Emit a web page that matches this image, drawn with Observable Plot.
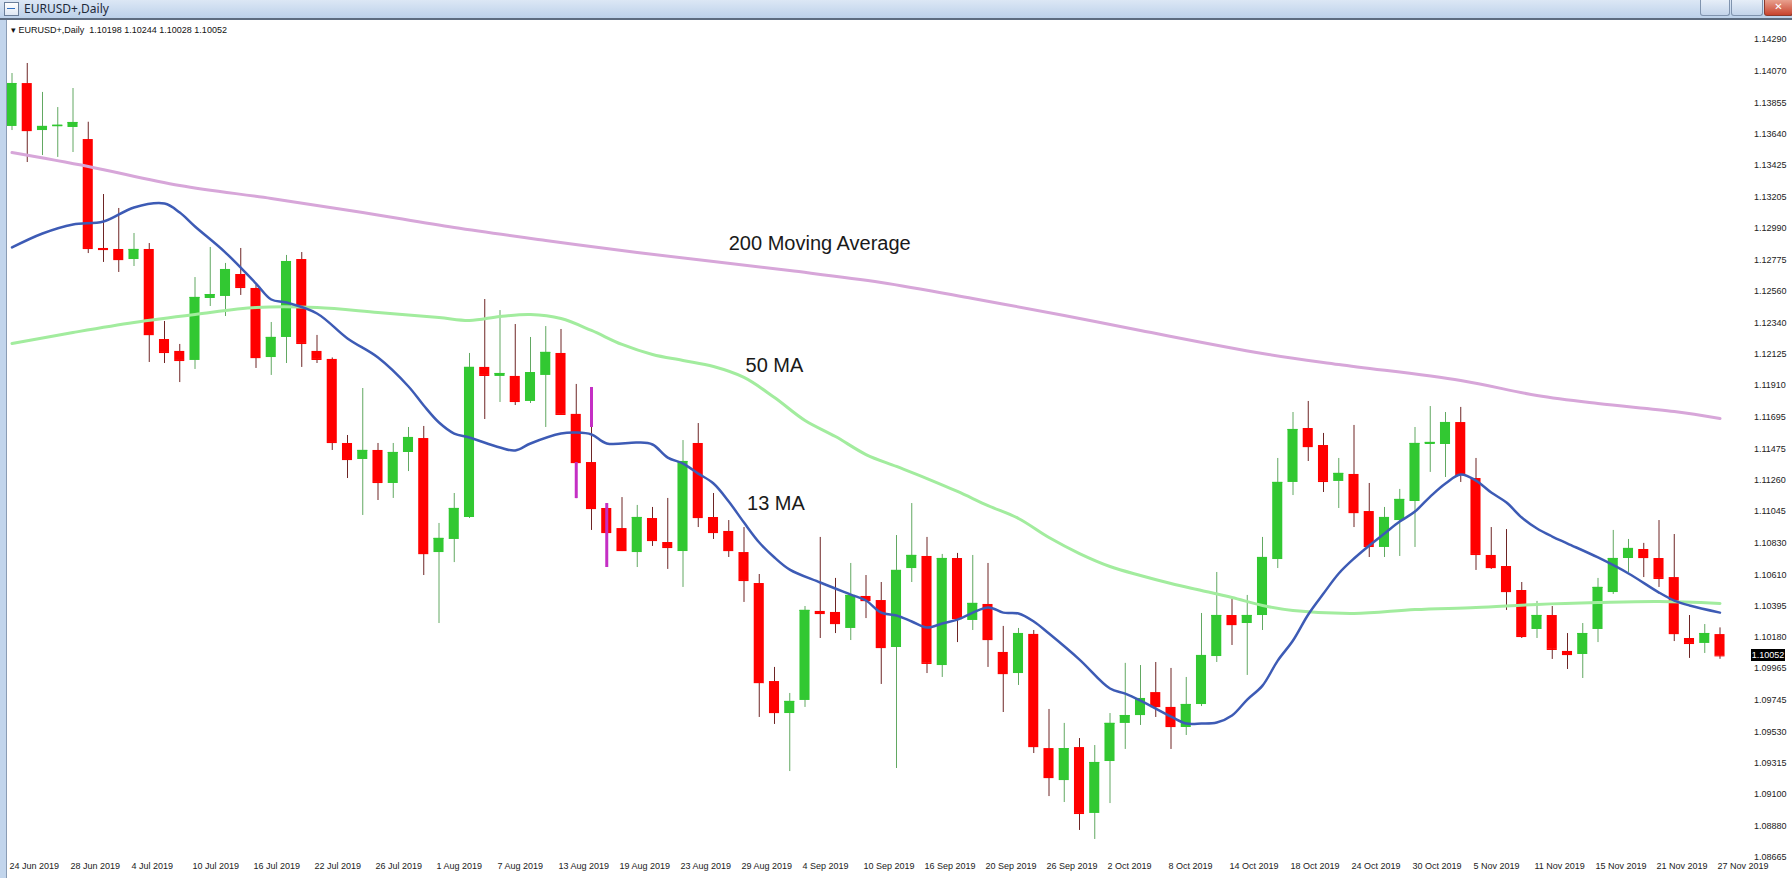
<!DOCTYPE html>
<html><head><meta charset="utf-8">
<script src="https://cdn.jsdelivr.net/npm/d3@7"></script>
<script src="https://cdn.jsdelivr.net/npm/@observablehq/plot@0.6"></script>
<style>
html,body{margin:0;padding:0;background:#fff;}
body{width:1792px;height:878px;position:relative;overflow:hidden;font-family:"Liberation Sans",Arial,sans-serif;}
#chart{position:absolute;left:0;top:0;}
#titlebar{position:absolute;left:0;top:0;width:1792px;height:18px;background:linear-gradient(#dce7f5,#bcd1ea);border-bottom:2px solid #5d6c80;z-index:5;}
#titlebar .ttl{position:absolute;left:24px;top:1px;font-family:"Noto Sans",sans-serif;font-size:12px;line-height:15px;color:#1e2a3a;}
#titlebar .ico{position:absolute;left:4px;top:2px;width:13px;height:12px;border:1px solid #6b7f9a;background:linear-gradient(#ffffff,#dfe8f4);}
#titlebar .ico:after{content:"";position:absolute;left:2px;top:5px;width:8px;height:4px;border-top:1px solid #2f6fc0;}
.btn{position:absolute;top:0;height:15px;border:1px solid #7f93ae;border-top:none;border-radius:0 0 3px 3px;background:linear-gradient(#e6eef8,#c3d4ea);}
.btn.close{background:linear-gradient(#e8a08e,#c8432e);border-color:#8e3a2c;color:#fff;font:bold 10px "DejaVu Sans",sans-serif;text-align:center;line-height:14px;}
#leftstrip{position:absolute;left:0;top:20px;width:6px;height:858px;background:#c2d5ec;border-right:1px solid #8a9cb4;z-index:5;}
#header{position:absolute;left:11px;top:24px;font-size:9px;line-height:12px;color:#111;z-index:4;white-space:pre;}
#pricebox{position:absolute;left:1751px;width:34px;height:12px;background:#000;color:#fff;font-size:9px;line-height:12px;text-align:center;z-index:4;}
</style></head><body>
<div id="chart"></div>
<div id="titlebar"><div class="ico"></div><div class="ttl">EURUSD+,Daily</div>
<div class="btn" style="left:1700px;width:28px;"></div>
<div class="btn" style="left:1731px;width:30px;"></div>
<div class="btn close" style="left:1764px;width:27px;">✕</div></div>
<div id="leftstrip"></div>
<div id="header">▾ EURUSD+,Daily  1.10198 1.10244 1.10028 1.10052</div>
<div id="pricebox"></div>
<script>
// ---- data ----
const dates = ["24 Jun 2019","28 Jun 2019","4 Jul 2019","10 Jul 2019","16 Jul 2019","22 Jul 2019","26 Jul 2019","1 Aug 2019","7 Aug 2019","13 Aug 2019","19 Aug 2019","23 Aug 2019","29 Aug 2019","4 Sep 2019","10 Sep 2019","16 Sep 2019","20 Sep 2019","26 Sep 2019","2 Oct 2019","8 Oct 2019","14 Oct 2019","18 Oct 2019","24 Oct 2019","30 Oct 2019","5 Nov 2019","11 Nov 2019","15 Nov 2019","21 Nov 2019","27 Nov 2019"];
const dateTickIdx = [0,4,8,12,16,20,24,28,32,36,40,44,48,52,56,60,64,68,72,76,80,84,88,92,96,100,104,108,112];
const priceTicks = [1.14290,1.14070,1.13855,1.13640,1.13425,1.13205,1.12990,1.12775,1.12560,1.12340,1.12125,1.11910,1.11695,1.11475,1.11260,1.11045,1.10830,1.10610,1.10395,1.10180,1.09965,1.09745,1.09530,1.09315,1.09100,1.08880,1.08665];

const opens = [1.13692,1.13987,1.13664,1.13690,1.13685,1.13602,1.12853,1.12846,1.12777,1.12846,1.12227,1.12145,1.12083,1.12509,1.12523,1.12674,1.12578,1.12103,1.12241,1.12777,1.12145,1.12090,1.11512,1.11402,1.11464,1.11237,1.11450,1.11546,1.10762,1.10852,1.11003,1.12035,1.11973,1.11973,1.11801,1.11980,1.12131,1.11712,1.11381,1.11065,1.10927,1.10762,1.10996,1.10831,1.10769,1.11512,1.11003,1.10907,1.10762,1.10549,1.09875,1.09655,1.09745,1.10357,1.10350,1.10240,1.10460,1.10432,1.10109,1.10652,1.10735,1.09985,1.10721,1.10295,1.10405,1.10075,1.09930,1.10199,1.09414,1.09194,1.09421,1.08968,1.09325,1.09587,1.09641,1.09799,1.09697,1.09559,1.09717,1.10047,1.10329,1.10274,1.10329,1.10714,1.11244,1.11615,1.11498,1.11251,1.11299,1.11044,1.10797,1.10982,1.11113,1.11505,1.11505,1.11656,1.11271,1.10742,1.10666,1.10501,1.10233,1.10329,1.10082,1.10061,1.10233,1.10487,1.10721,1.10783,1.10721,1.10590,1.10171,1.10137,1.10198];
const highs = [1.14056,1.14125,1.13926,1.13822,1.13953,1.13721,1.13224,1.13128,1.12956,1.12887,1.12351,1.12193,1.12653,1.12860,1.12750,1.12853,1.12600,1.12344,1.12805,1.12825,1.12255,1.12100,1.11567,1.11890,1.11512,1.11512,1.11622,1.11629,1.10962,1.11168,1.12131,1.12502,1.12426,1.12330,1.12241,1.12316,1.12296,1.11918,1.11897,1.11099,1.11140,1.11086,1.11072,1.11134,1.11532,1.11649,1.11168,1.10982,1.10934,1.10611,1.09972,1.09793,1.10391,1.10866,1.10584,1.10687,1.10604,1.10556,1.10879,1.11099,1.10866,1.10749,1.10756,1.10742,1.10687,1.10254,1.10240,1.10226,1.09683,1.09587,1.09483,1.09435,1.09655,1.10000,1.09985,1.10006,1.09965,1.09903,1.10343,1.10625,1.10439,1.10467,1.10866,1.11409,1.11725,1.11801,1.11581,1.11409,1.11636,1.11237,1.11072,1.11196,1.11622,1.11766,1.11725,1.11760,1.11409,1.10934,1.10920,1.10556,1.10426,1.10391,1.10205,1.10274,1.10584,1.10914,1.10852,1.10825,1.10982,1.10886,1.10329,1.10267,1.10244];
const lows = [1.13664,1.13444,1.13492,1.13479,1.13513,1.12818,1.12757,1.12688,1.12729,1.12069,1.12062,1.11931,1.12021,1.12454,1.12385,1.12530,1.12028,1.11980,1.12062,1.12035,1.12062,1.11464,1.11271,1.11017,1.11120,1.11134,1.11319,1.10604,1.10274,1.10693,1.10996,1.11677,1.11794,1.11773,1.11787,1.11622,1.11705,1.11133,1.10914,1.10659,1.10769,1.10659,1.10804,1.10646,1.10522,1.10934,1.10852,1.10728,1.10419,1.09628,1.09580,1.09256,1.09697,1.10171,1.10205,1.10157,1.10308,1.09855,1.09277,1.10556,1.09930,1.09903,1.10143,1.10226,1.09972,1.09662,1.09848,1.09380,1.09084,1.09043,1.08851,1.08789,1.09036,1.09408,1.09573,1.09628,1.09408,1.09504,1.09703,1.10006,1.10123,1.09917,1.10226,1.10652,1.11154,1.11388,1.11175,1.11065,1.10934,1.10728,1.10728,1.10735,1.10797,1.11313,1.11278,1.11244,1.10639,1.10646,1.10364,1.10171,1.10171,1.10027,1.09958,1.09896,1.10143,1.10474,1.10625,1.10590,1.10522,1.10150,1.10034,1.10068,1.10028];
const closes = [1.13987,1.13664,1.13692,1.13700,1.13719,1.12853,1.12846,1.12777,1.12846,1.12261,1.12138,1.12083,1.12516,1.12536,1.12708,1.12585,1.12103,1.12241,1.12763,1.12200,1.12090,1.11519,1.11402,1.11464,1.11244,1.11450,1.11553,1.10755,1.10859,1.11065,1.12035,1.11980,1.11993,1.11801,1.11999,1.12138,1.11712,1.11381,1.11065,1.10900,1.10776,1.11003,1.10845,1.10797,1.11388,1.11003,1.10900,1.10776,1.10570,1.09868,1.09662,1.09738,1.10364,1.10343,1.10274,1.10467,1.10432,1.10109,1.10639,1.10742,1.10000,1.10721,1.10308,1.10412,1.10164,1.09930,1.10205,1.09428,1.09215,1.09414,1.08968,1.09318,1.09587,1.09641,1.09758,1.09703,1.09566,1.09717,1.10054,1.10329,1.10267,1.10329,1.10728,1.11244,1.11608,1.11491,1.11251,1.11306,1.11037,1.10804,1.11003,1.11127,1.11512,1.11519,1.11656,1.11299,1.10749,1.10659,1.10494,1.10185,1.10329,1.10096,1.10061,1.10205,1.10522,1.10721,1.10790,1.10728,1.10584,1.10205,1.10137,1.10205,1.10052];

const ma13Idx = [0,2,4,6,8,10,11,12,14,16,17,18,20,22,24,26,27,28,29,30,32,33,34,36,37,38,39,41,42,43,44,45,46,47,48,49,50,51,53,55,56,57,58,59,60,61,62,64,65,66,67,68,70,72,73,74,76,77,78,79,80,81,82,83,84,85,86,87,88,89,90,91,92,93,94,95,96,97,98,99,100,101,102,104,106,108,109,110,112];
const ma13Val = [1.12860,1.12956,1.13018,1.13038,1.13135,1.13162,1.13100,1.13004,1.12825,1.12612,1.12502,1.12481,1.12406,1.12234,1.12103,1.11904,1.11773,1.11656,1.11580,1.11553,1.11484,1.11464,1.11512,1.11580,1.11587,1.11574,1.11512,1.11519,1.11505,1.11415,1.11374,1.11305,1.11237,1.11113,1.10968,1.10831,1.10728,1.10645,1.10556,1.10473,1.10432,1.10349,1.10329,1.10288,1.10246,1.10274,1.10301,1.10384,1.10349,1.10343,1.10288,1.10205,1.10026,1.09827,1.09792,1.09744,1.09634,1.09586,1.09586,1.09593,1.09641,1.09751,1.09847,1.10019,1.10157,1.10336,1.10480,1.10618,1.10721,1.10810,1.10893,1.10975,1.11044,1.11147,1.11237,1.11299,1.11257,1.11175,1.11106,1.11003,1.10927,1.10872,1.10824,1.10728,1.10618,1.10487,1.10432,1.10398,1.10349];
const ma50Idx = [0,4,8,12,16,20,24,28,30,32,34,36,38,40,42,44,46,48,50,52,54,56,58,60,62,64,66,68,70,72,74,76,78,80,82,84,88,92,96,100,104,108,112];
const ma50Val = [1.12200,1.12275,1.12344,1.12399,1.12447,1.12447,1.12413,1.12378,1.12358,1.12385,1.12399,1.12371,1.12289,1.12193,1.12124,1.12083,1.12041,1.11966,1.11828,1.11670,1.11560,1.11436,1.11354,1.11271,1.11182,1.11085,1.10996,1.10865,1.10755,1.10666,1.10604,1.10549,1.10501,1.10453,1.10398,1.10364,1.10343,1.10370,1.10384,1.10405,1.10418,1.10425,1.10412];
const ma200Idx = [0,5,11,17,23,29,35,41,51,57,63,69,74,82,87,95,100,104,109,112];
const ma200Val = [1.13513,1.13417,1.13286,1.13197,1.13100,1.12997,1.12908,1.12825,1.12701,1.12619,1.12509,1.12392,1.12289,1.12131,1.12055,1.11945,1.11842,1.11787,1.11732,1.11684];

// magenta overlay strokes near 13-15 Aug
const magIdx = [37,38,39];
const magLo = [1.11133,1.11622,1.10659];
const magHi = [1.11381,1.11897,1.11099];

const annText = ["200 Moving Average","50 MA","13 MA"];
const annIdx = [47.0,48.1,48.2];
const annPrice = [1.12887,1.12048,1.11099];

// ---- build ----
const candles = opens.map((o,i)=>({i,o,h:highs[i],l:lows[i],c:closes[i]}));
const isUp = d => d.c >= d.o;
const hw = 0.33;
const ma13 = ma13Idx.map((x,k)=>({x,y:ma13Val[k]}));
const ma50 = ma50Idx.map((x,k)=>({x,y:ma50Val[k]}));
const ma200 = ma200Idx.map((x,k)=>({x,y:ma200Val[k]}));
const mags = magIdx.map((x,k)=>({x,y1:magLo[k],y2:magHi[k]}));
const anns = annText.map((t,k)=>({t,x:annIdx[k],y:annPrice[k]}));

const chart = Plot.plot({
  width: 1792, height: 878,
  marginLeft: 11.5, marginRight: 72.5, marginTop: 39, marginBottom: 21,
  style: {background: "#fff", fontFamily: "'Liberation Sans', Arial, sans-serif", fontSize: "9px", color: "#111"},
  x: {type: "linear", domain: [0,112], axis: null},
  y: {type: "linear", domain: [1.08665,1.14290], axis: null},
  color: {type: "identity"},
  marks: [
    Plot.ruleX(candles, {x: "i", y1: "l", y2: "h", stroke: d => isUp(d) ? "#62a862" : "#6e2424", strokeWidth: 1}),
    Plot.rect(candles, {x1: d => d.i - hw, x2: d => d.i + hw, y1: "o", y2: "c", fill: d => isUp(d) ? "#32c832" : "#ff0000"}),
    Plot.ruleY(candles, {y: "c", x1: d => d.i - hw, x2: d => d.i + hw, stroke: d => isUp(d) ? "#32c832" : "#ff0000", strokeWidth: 1.2}),
    Plot.ruleX(mags, {x: "x", y1: "y1", y2: "y2", stroke: "#c42fc4", strokeWidth: 3}),
    Plot.line(ma200, {x: "x", y: "y", stroke: "#d7a6d9", strokeWidth: 3, curve: "catmull-rom"}),
    Plot.line(ma50, {x: "x", y: "y", stroke: "#a2ec9e", strokeWidth: 3, curve: "catmull-rom"}),
    Plot.line(ma13, {x: "x", y: "y", stroke: "#3d5bb5", strokeWidth: 2.5, curve: "catmull-rom"}),
    Plot.text(anns, {x: "x", y: "y", text: "t", textAnchor: "start", fontSize: 20, fill: "#1a1a1a", fontFamily: "'Liberation Sans', Arial, sans-serif"}),
    Plot.axisY(priceTicks, {anchor: "right", tickSize: 0, tickPadding: 34, tickFormat: d => d.toFixed(5), label: null, fill: "#222"}),
    Plot.axisX(dateTickIdx, {anchor: "bottom", tickSize: 0, tickPadding: 5, tickFormat: d => dates[Math.round(d/4)], textAnchor: "start", dx: -2.5, label: null, fill: "#222"})
  ]
});
document.getElementById("chart").appendChild(chart);

const lastClose = closes[closes.length-1];
const py = chart.scale("y").apply(lastClose);
const box = document.getElementById("pricebox");
box.style.top = (py - 6) + "px";
box.textContent = lastClose.toFixed(5);
</script>
</body></html>
